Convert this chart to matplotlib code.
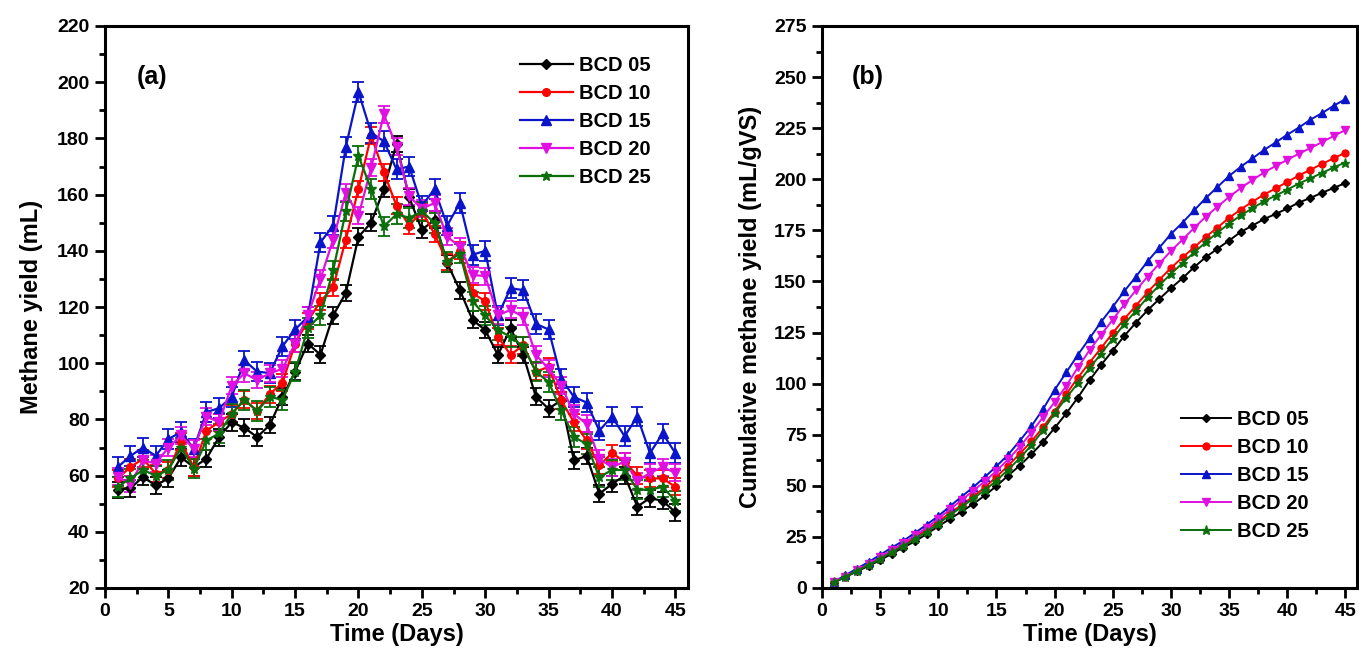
import matplotlib
matplotlib.use("Agg")
import matplotlib.pyplot as plt
from matplotlib.ticker import MultipleLocator

plt.rcParams['font.family'] = ['Liberation Sans', 'DejaVu Sans']
plt.rcParams['font.weight'] = 'bold'

days = list(range(1, 46))
labels = ["BCD 05", "BCD 10", "BCD 15", "BCD 20", "BCD 25"]

# Panel (a): daily methane yield (mL)
bcd05_daily = [54.9, 55.5, 59.5, 56.5, 59, 66.5, 63, 66, 73.7, 79, 77, 73.7, 78, 88, 97,
               107, 103, 117, 125, 145, 150, 162, 178, 159, 147.5, 151, 135.6, 126, 115.4, 111.8,
               102.9, 112.4, 102.9, 88, 83.8, 86.8, 65.4, 67, 53.5, 57, 60, 49, 52, 51, 47]
bcd10_daily = [59, 63, 66, 60.7, 62, 72, 63, 76, 79, 82, 87, 83, 89, 93, 107,
               115, 122, 127, 144, 162, 181, 168, 156, 149, 154, 146, 136, 140, 125, 122,
               109.4, 103, 106.4, 97, 98.7, 86.8, 79, 72.5, 63.6, 68, 65, 60, 59, 59, 56]
bcd15_daily = [63, 67, 70, 67, 73, 75.5, 69.6, 82.6, 84, 88, 101, 97, 96.5, 106, 112,
               116.5, 143, 149, 177, 196.5, 182, 179, 169, 170, 156, 162, 149, 157, 138.6, 140,
               117, 126.7, 126, 114, 112, 94.5, 88, 86, 76, 81, 74, 81, 68, 75, 68]
bcd20_daily = [59.6, 57, 65.4, 64.3, 70, 74.3, 69.6, 81, 79, 92, 96.4, 94, 96.4, 98, 107,
               117, 130, 144, 160.6, 152.5, 169.5, 188.6, 177, 159.4, 155, 157, 145, 141.5, 131.4, 131,
               117, 119, 116.5, 103, 98, 92, 82, 78.4, 66, 63, 65, 58, 61, 63, 61]
bcd25_daily = [56, 59, 62, 60, 62, 70, 62.5, 72.5, 75, 82, 87, 83, 88, 87, 97,
               112.5, 117, 133, 154, 173.7, 162, 148.7, 153, 151.7, 154, 150, 136, 139, 122, 117,
               111.8, 109.4, 106, 97, 93.3, 83.2, 73.7, 71.3, 59.4, 62, 62, 55, 55, 56, 51]

# error bar half-heights (mL), estimated
bcd05_err = 3.0
bcd10_err = 3.0
bcd15_err = 3.5
bcd20_err = 3.0
bcd25_err = 3.5

# Panel (b): cumulative methane yield (mL/gVS)
bcd05_cum = [2.6, 5.3, 8.1, 10.8, 13.6, 16.8, 19.8, 22.9, 26.4, 30.2, 33.8, 37.4, 41.1, 45.3, 49.9,
             55.0, 59.9, 65.4, 71.4, 78.3, 85.4, 93.2, 101.6, 109.2, 116.2, 123.4, 129.9, 135.9, 141.4, 146.7,
             151.6, 157.0, 161.9, 166.0, 170.0, 174.2, 177.3, 180.5, 183.0, 185.7, 188.6, 190.9, 193.4, 195.8, 198.1]
bcd10_cum = [2.8, 5.8, 9.0, 11.8, 14.8, 18.2, 21.2, 24.8, 28.6, 32.5, 36.7, 40.6, 44.8, 49.3, 54.4,
             59.8, 65.7, 71.7, 78.6, 86.3, 94.9, 102.9, 110.3, 117.4, 124.8, 131.7, 138.2, 144.8, 150.8, 156.6,
             161.8, 166.7, 171.8, 176.4, 181.1, 185.2, 189.0, 192.5, 195.5, 198.7, 201.8, 204.7, 207.5, 210.3, 213.0]
bcd15_cum = [3.0, 6.2, 9.5, 12.7, 16.2, 19.8, 23.1, 27.0, 31.0, 35.2, 40.0, 44.7, 49.3, 54.3, 59.6,
             65.2, 72.0, 79.1, 87.5, 96.9, 105.5, 114.1, 122.1, 130.2, 137.6, 145.3, 152.4, 159.9, 166.5, 173.2,
             178.8, 184.8, 190.8, 196.2, 201.6, 206.1, 210.2, 214.3, 218.0, 221.8, 225.3, 229.2, 232.4, 236.0, 239.2]
bcd20_cum = [2.8, 5.6, 8.7, 11.7, 15.1, 18.6, 21.9, 25.8, 29.5, 33.9, 38.5, 43.0, 47.6, 52.2, 57.3,
             62.9, 69.1, 76.0, 83.6, 90.9, 98.9, 107.9, 116.3, 123.9, 131.3, 138.8, 145.7, 152.4, 158.7, 164.9,
             170.5, 176.2, 181.7, 186.6, 191.3, 195.7, 199.6, 203.3, 206.5, 209.5, 212.5, 215.3, 218.2, 221.2, 224.1]
bcd25_cum = [2.7, 5.5, 8.4, 11.3, 14.2, 17.6, 20.6, 24.0, 27.6, 31.5, 35.6, 39.6, 43.8, 47.9, 52.5,
             57.9, 63.5, 69.8, 77.1, 85.4, 93.1, 100.2, 107.5, 114.7, 122.0, 129.2, 135.7, 142.3, 148.1, 153.7,
             159.0, 164.2, 169.2, 173.9, 178.3, 182.3, 185.8, 189.2, 192.0, 194.9, 197.9, 200.5, 203.1, 205.8, 208.2]

colors = ["#000000", "#ff0000", "#0a14c8", "#e010e0", "#0a6e0a"]
markers = ["D", "o", "^", "v", "*"]
msizes = [5, 5.5, 6.5, 6.5, 7]

daily = [bcd05_daily, bcd10_daily, bcd15_daily, bcd20_daily, bcd25_daily]
errs = [bcd05_err, bcd10_err, bcd15_err, bcd20_err, bcd25_err]
cums = [bcd05_cum, bcd10_cum, bcd15_cum, bcd20_cum, bcd25_cum]

W, H = 1359, 661
fig = plt.figure(figsize=(W / 100, H / 100), dpi=100)
fig.patch.set_facecolor("white")

def px_axes(l, r, t, b):
    return fig.add_axes([l / W, 1 - b / H, (r - l) / W, (b - t) / H])

axa = px_axes(105, 688, 26, 588)
axb = px_axes(822, 1357, 26, 588)

handles_a = []
for i in range(5):
    c = axa.errorbar(days, daily[i], yerr=errs[i], color=colors[i], marker=markers[i],
                     markersize=msizes[i], linewidth=1.6, elinewidth=1.3, capsize=4,
                     capthick=1.3, label=labels[i])
    handles_a.append(c[0])
    axb.plot(days, cums[i], color=colors[i], marker=markers[i],
             markersize=msizes[i] - 0.5, linewidth=1.4, label=labels[i])

for ax in (axa, axb):
    ax.set_xlim(0, 46)
    ax.xaxis.set_major_locator(MultipleLocator(5))
    ax.xaxis.set_minor_locator(MultipleLocator(2.5))
    ax.tick_params(which="major", direction="out", length=7, width=2, labelsize=14, pad=4)
    ax.tick_params(which="minor", direction="out", length=4, width=2)
    for s in ax.spines.values():
        s.set_linewidth(2.2)
    ax.set_xlabel("Time (Days)", fontsize=17, fontweight="bold", labelpad=2)

axa.set_ylim(20, 220)
axa.yaxis.set_major_locator(MultipleLocator(20))
axa.yaxis.set_minor_locator(MultipleLocator(10))
axa.set_ylabel("Methane yield (mL)", fontsize=17, fontweight="bold", labelpad=10)

axb.set_ylim(0, 275)
axb.yaxis.set_major_locator(MultipleLocator(25))
axb.yaxis.set_minor_locator(MultipleLocator(12.5))
axb.set_ylabel("Cumulative methane yield (mL/gVS)", fontsize=17, fontweight="bold", labelpad=9)

for ax in (axa, axb):
    for lbl in ax.get_xticklabels() + ax.get_yticklabels():
        lbl.set_fontweight("bold")

axa.text(0.055, 0.91, "(a)", transform=axa.transAxes, fontsize=18, fontweight="bold", va="center")
axb.text(0.055, 0.91, "(b)", transform=axb.transAxes, fontsize=18, fontweight="bold", va="center")

axa.legend(handles=handles_a, labels=labels, loc="upper left", bbox_to_anchor=(0.695, 0.965),
           frameon=False, prop={"weight": "bold", "size": 14.5}, handlelength=2.6,
           handletextpad=0.3, labelspacing=0.45, borderpad=0)
axb.legend(loc="upper left", bbox_to_anchor=(0.652, 0.335), frameon=False,
           prop={"weight": "bold", "size": 14.5}, handlelength=2.5,
           handletextpad=0.3, labelspacing=0.45, borderpad=0)

fig.savefig("out.png", dpi=100, facecolor="white")
